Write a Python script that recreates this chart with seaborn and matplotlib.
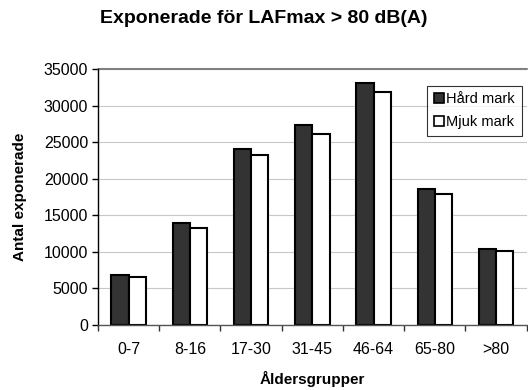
import matplotlib
matplotlib.use("Agg")
import matplotlib.pyplot as plt
import seaborn as sns
import pandas as pd
import numpy as np

categories = ["0-7", "8-16", "17-30", "31-45", "46-64", "65-80", ">80"]
hard = [6800, 13900, 24100, 27300, 33100, 18550, 10400]
soft = [6500, 13200, 23200, 26100, 31800, 17900, 10100]
series = ["Hård mark", "Mjuk mark"]

df = pd.DataFrame({
    "Åldersgrupper": categories * 2,
    "value": hard + soft,
    "serie": [series[0]] * len(categories) + [series[1]] * len(categories),
})

sns.set_theme(style="white")
plt.rcParams["font.family"] = ["Liberation Sans", "DejaVu Sans"]
plt.rcParams["text.color"] = "black"
plt.rcParams["axes.labelcolor"] = "black"
plt.rcParams["xtick.color"] = "black"
plt.rcParams["ytick.color"] = "black"

fig = plt.figure(figsize=(5.28, 3.90), dpi=100)
ax = fig.add_axes([0.1856, 0.1667, 0.812, 0.6563])

sns.barplot(data=df, x="Åldersgrupper", y="value", hue="serie",
            palette=["#333333", "#ffffff"], edgecolor="black", linewidth=1.5,
            width=0.56, ax=ax, errorbar=None, saturation=1)

ax.set_ylim(0, 35000)
ax.set_xlim(-0.5, len(categories) - 0.5)
ax.set_yticks(np.arange(0, 35001, 5000))
ax.yaxis.grid(True, color="#c8c8c8", linewidth=0.8)
ax.set_axisbelow(True)

for s in ["top", "right"]:
    ax.spines[s].set_visible(False)
ax.spines["left"].set_color("black")
ax.spines["left"].set_linewidth(1)
ax.spines["bottom"].set_color("#555555")
ax.spines["bottom"].set_linewidth(1)
ax.axhline(35000, color="#808080", linewidth=1.5, clip_on=False)

ax.tick_params(axis="y", which="major", direction="out", length=4, width=1, color="black", labelsize=11.5, pad=3, left=True)
ax.tick_params(axis="x", which="major", length=0, labelsize=11.5, pad=12)
ax.set_xticks(np.arange(-0.5, len(categories), 1.0), minor=True)
ax.tick_params(axis="x", which="minor", direction="out", length=4, width=1, color="#333333", bottom=True)

ax.set_xlabel("Åldersgrupper", fontsize=11, fontweight="bold", labelpad=10)
ax.set_ylabel("Antal exponerade", fontsize=11, fontweight="bold", labelpad=12)
fig.suptitle("Exponerade för LAFmax > 80 dB(A)", x=0.5, y=0.975, fontsize=14, fontweight="bold")

leg = ax.legend(loc="upper right", bbox_to_anchor=(0.988, 0.935), fontsize=10.5,
                handlelength=0.7, handleheight=0.7, handletextpad=0.15,
                frameon=True, fancybox=False, borderpad=0.45, labelspacing=0.6,
                title=None, borderaxespad=0)
leg.get_frame().set_edgecolor("black")
leg.get_frame().set_linewidth(0.8)
for h in leg.legend_handles:
    h.set_edgecolor("black")
    h.set_linewidth(1.2)

fig.savefig("out.png", dpi=100)
